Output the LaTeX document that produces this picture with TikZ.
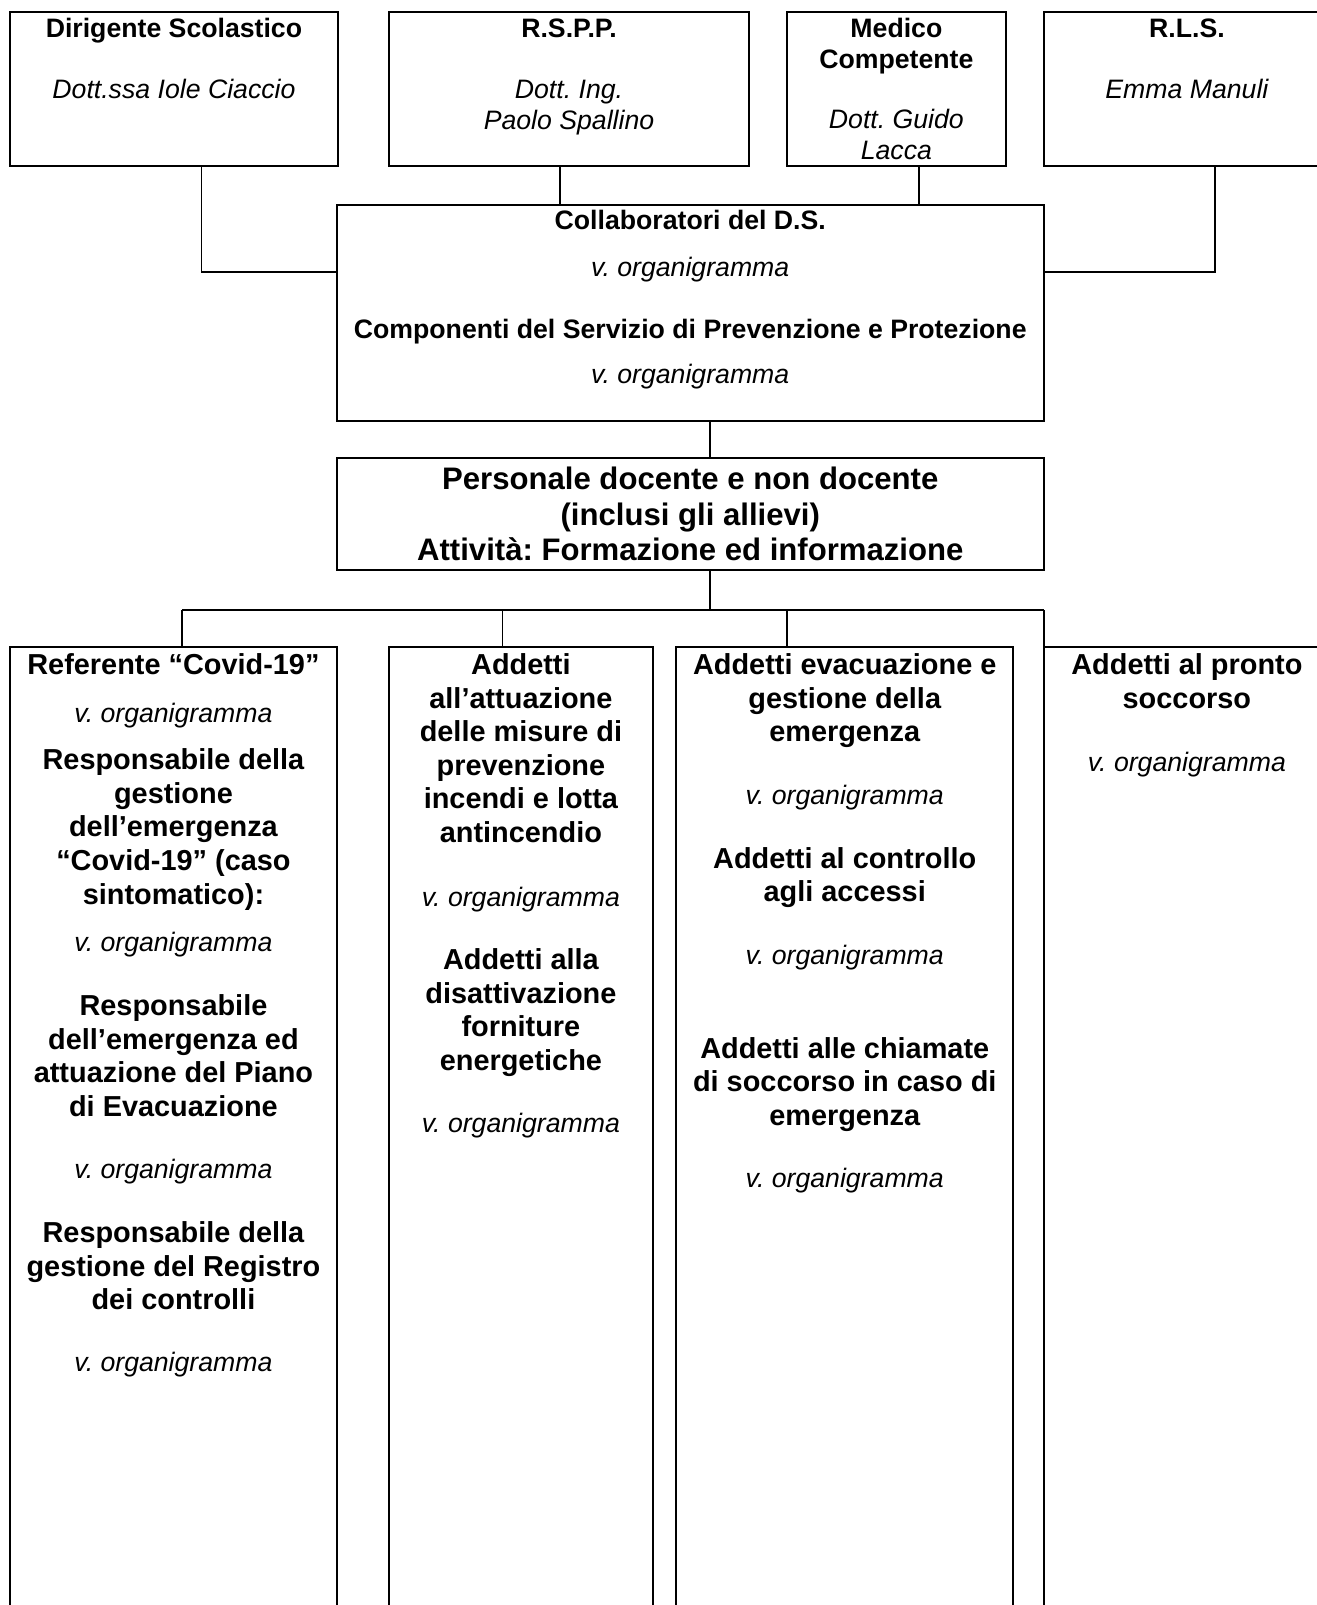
\documentclass[tikz,border=0pt]{standalone}
\usepackage{fontspec}
\setmainfont{Liberation Sans}
\usetikzlibrary{fit}
\frenchspacing
\tikzset{box/.style={draw,line width=0.9pt,inner sep=0pt},
link/.style={line width=0.8pt},
boxhead/.style={anchor=base,align=center,inner sep=0pt,font=\fontsize{12}{13.8}\selectfont\bfseries},
boxname/.style={anchor=base,align=center,inner sep=0pt,font=\fontsize{12}{13.8}\selectfont\itshape},
bighead/.style={anchor=base,align=center,inner sep=0pt,font=\fontsize{14}{16.1}\selectfont\bfseries},
colhead/.style={anchor=base,align=center,inner sep=0pt,font=\fontsize{13}{15.1}\selectfont\bfseries}}

\begin{document}
\begin{tikzpicture}[x=0.45pt,y=-0.45pt]
\path[use as bounding box,clip] (0,0) rectangle (1317,1605);
\fill[white] (0,0) rectangle (1317,1605);

% Boxes, top row
\node[box,fit={(10.2,12.3) (337.7,165.8)}] (dirigente) {};
\node[box,fit={(388.9,12.3) (749.1,165.8)}] (rspp) {};
\node[box,fit={(786.9,12.3) (1005.9,165.8)}] (medico) {};
\node[box,fit={(1043.8,12.3) (1330,165.8)}] (rls) {};

% Boxes, middle
\node[box,fit={(336.7,204.7) (1043.8,420.6)}] (collab) {};
\node[box,fit={(336.7,458.4) (1043.8,570)}] (personale) {};

% Boxes, bottom row (run off the page)
\node[box,fit={(10.2,646.7) (336.7,1700)}] (col1) {};
\node[box,fit={(388.9,646.7) (652.9,1700)}] (col2) {};
\node[box,fit={(676.4,646.7) (1013.1,1700)}] (col3) {};
\node[box,fit={(1043.8,646.7) (1330,1700)}] (col4) {};

% Texts, top row (base = last line)
\node[boxhead] (dirigentehead) at (173.95,37.5) {Dirigente Scolastico};
\node[boxname] (dirigentename) at (173.95,98.9) {Dott.ssa Iole Ciaccio};
\node[boxhead] (rsppHead) at (569,37.5) {R.S.P.P.};
\node[boxname] (rsppname) at (569,129.6) {Dott. Ing.\\Paolo Spallino};
\node[boxhead] (medicohead) at (896.4,68.2) {Medico\\Competente};
\node[boxname] (mediconame) at (896.4,159.2) {Dott. Guido\\Lacca};
\node[boxhead] (rlshead) at (1186.9,37.5) {R.L.S.};
\node[boxname] (rlsname) at (1186.9,98.9) {Emma Manuli};

% Texts, middle
\node[boxhead] (collabhead) at (690.25,229.8) {Collaboratori del D.S.};
\node[boxname] (collabref) at (690.25,276.9) {v. organigramma};
\node[boxhead] (spphead) at (690.25,338.3) {Componenti del Servizio di Prevenzione e Protezione};
\node[boxname] (sppref) at (690.25,383.3) {v. organigramma};
\node[bighead] (personalehead) at (690.25,560.8) {Personale docente e non docente\\(inclusi gli allievi)\\Attività: Formazione ed informazione};

% Texts, bottom row
\node[colhead] (covidhead) at (173.45,674.6) {Referente “Covid-19”};
\node[boxname] (covidref) at (173.45,722.0) {v. organigramma};
\node[colhead] (sintomhead) at (173.45,904.0) {Responsabile della\\gestione\\dell’emergenza\\“Covid-19” (caso\\sintomatico):};
\node[boxname] (sintomref) at (173.45,951.3) {v. organigramma};
\node[colhead] (pianohead) at (173.45,1116.1) {Responsabile\\dell’emergenza ed\\attuazione del Piano\\di Evacuazione};
\node[boxname] (pianoref) at (173.45,1178.4) {v. organigramma};
\node[colhead] (registrohead) at (173.45,1309.7) {Responsabile della\\gestione del Registro\\dei controlli};
\node[boxname] (registroref) at (173.45,1371.8) {v. organigramma};

\node[colhead] (incendihead) at (520.9,842.4) {Addetti\\all’attuazione\\delle misure di\\prevenzione\\incendi e lotta\\antincendio};
\node[boxname] (incendiref) at (520.9,906.2) {v. organigramma};
\node[colhead] (fornitureshead) at (520.9,1070.1) {Addetti alla\\disattivazione\\forniture\\energetiche};
\node[boxname] (fornitureref) at (520.9,1132.4) {v. organigramma};

\node[colhead] (evachead) at (844.75,741.7) {Addetti evacuazione e\\gestione della\\emergenza};
\node[boxname] (evacref) at (844.75,804.9) {v. organigramma};
\node[colhead] (accessihead) at (844.75,901.6) {Addetti al controllo\\agli accessi};
\node[boxname] (accessiref) at (844.75,964.6) {v. organigramma};
\node[colhead] (chiamatehead) at (844.75,1125.5) {Addetti alle chiamate\\di soccorso in caso di\\emergenza};
\node[boxname] (chiamateref) at (844.75,1187.6) {v. organigramma};

\node[colhead] (soccorsohead) at (1186.9,708.2) {Addetti al pronto\\soccorso};
\node[boxname] (soccorsoref) at (1186.9,771.2) {v. organigramma};

% Connectors, top
\coordinate (dsx) at (201.6,272.2);
\coordinate (rlsx) at (1214.7,272.2);
\coordinate (rsppx) at (559.7,0);
\coordinate (medicox) at (918.9,0);
\draw[link] (dirigente.south -| dsx) |- (collab.west |- dsx);
\draw[link] (rls.south -| rlsx) |- (collab.east |- rlsx);
\draw[link] (rspp.south -| rsppx) -- (collab.north -| rsppx);
\draw[link] (medico.south -| medicox) -- (collab.north -| medicox);

% Connectors, bottom
\coordinate (stem) at (710.2,609.9);
\coordinate (busL) at (182.1,609.9);
\coordinate (busR) at (1043.8,609.9);
\draw[link] (collab.south -| stem) -- (personale.north -| stem);
\draw[link] (personale.south -| stem) -- (stem);
\draw[link] (busL) -- (busR);
\foreach \n/\x in {col1/182.1, col2/502.4, col3/786.9, col4/1043.8} {
  \coordinate (drop) at (\x,609.9);
  \draw[link] (drop) -- (\n.north -| drop);
}

\end{tikzpicture}
\end{document}
